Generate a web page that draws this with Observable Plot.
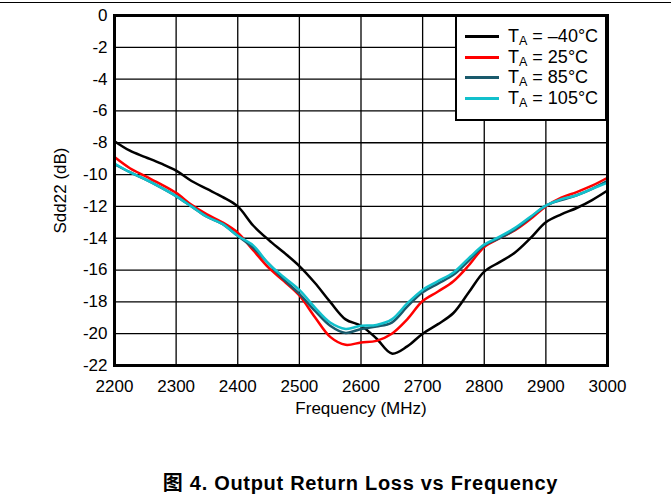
<!DOCTYPE html>
<html>
<head>
<meta charset="utf-8">
<script src="https://cdn.jsdelivr.net/npm/d3@7"></script>
<script src="https://cdn.jsdelivr.net/npm/@observablehq/plot@0.6"></script>
<style>
  html, body { margin: 0; padding: 0; background: #fff; }
  #page { position: relative; width: 671px; height: 502px; overflow: hidden;
          font-family: "Liberation Sans", Arial, "Noto Sans CJK SC", sans-serif; }
  #rule { position: absolute; left: 0; top: 2px; width: 671px; border-top: 1.5px solid #000; }
  #chart { position: absolute; left: 0; top: 0; }
  #legend { position: absolute; box-sizing: border-box; background: #fff;
            border: 2.5px solid #000; font-size: 18px; color: #000; }
  .row { position: absolute; left: 0; height: 20px; display: flex; align-items: center; white-space: nowrap; }
  .sw { display: inline-block; width: 34px; height: 3px; margin-left: 8px; margin-right: 9px; }
  .row sub { font-size: 12.5px; vertical-align: -3px; line-height: 0; }
  #caption { position: absolute; left: 104px; width: 513px; top: 472px; line-height: 22px;
             text-align: center; font-weight: bold; font-size: 20px; letter-spacing: 0.7px; color: #000; }
</style>
</head>
<body>
<div id="page">
  <div id="rule"></div>
  <div id="chart"></div>
  <div id="legend"></div>
  <div id="caption">图 4. Output Return Loss vs Frequency</div>
</div>
<script>
// Frequency sweep (MHz)
const freq = [2200, 2225, 2250, 2275, 2300, 2325, 2350, 2375, 2400, 2425, 2450, 2475, 2500,
  2525, 2550, 2575, 2600, 2625, 2650, 2675, 2700, 2725, 2750, 2775, 2800, 2825, 2850, 2875,
  2900, 2925, 2950, 2975, 3000];

// Sdd22 (dB) per ambient temperature
const sddM40 = [-7.9, -8.5, -8.9, -9.3, -9.75, -10.4, -10.9, -11.4, -12.0, -13.2, -14.1, -14.9, -15.75,
  -16.8, -18.0, -19.1, -19.5, -20.3, -21.25, -20.8, -20.0, -19.4, -18.7, -17.4, -16.1, -15.5, -14.9, -14.0,
  -13.0, -12.5, -12.1, -11.6, -11.0];
const sdd25 = [-8.9, -9.6, -10.1, -10.6, -11.15, -11.9, -12.5, -13.0, -13.65, -14.75, -15.85, -16.7, -17.6,
  -18.95, -20.2, -20.7, -20.55, -20.45, -20.0, -19.1, -17.95, -17.35, -16.7, -15.7, -14.55, -14.0, -13.5, -12.8,
  -12.0, -11.45, -11.1, -10.7, -10.2];
const sdd85 = [-9.35, -9.85, -10.3, -10.8, -11.35, -12.0, -12.65, -13.1, -13.85, -14.6, -15.6, -16.6, -17.5,
  -18.55, -19.5, -19.95, -19.7, -19.55, -19.3, -18.3, -17.4, -16.85, -16.3, -15.4, -14.45, -14.0, -13.45, -12.7,
  -11.95, -11.6, -11.3, -10.9, -10.4];
const sdd105 = [-9.3, -9.85, -10.3, -10.8, -11.35, -12.0, -12.65, -13.1, -13.85, -14.45, -15.6, -16.45, -17.25,
  -18.35, -19.3, -19.7, -19.5, -19.45, -19.1, -18.1, -17.25, -16.7, -16.15, -15.25, -14.4, -13.9, -13.35, -12.65,
  -11.95, -11.55, -11.3, -10.9, -10.5];

const temps = ["\u201340", "25", "85", "105"];
const colors = ["#000000", "#ff0000", "#1a5a6c", "#12c0cc"];
const seriesValues = [sddM40, sdd25, sdd85, sdd105];

const xTicks = [2200, 2300, 2400, 2500, 2600, 2700, 2800, 2900, 3000];
const yTicks = [0, -2, -4, -6, -8, -10, -12, -14, -16, -18, -20, -22];

const table = seriesValues.flatMap((vals, s) =>
  freq.map((f, i) => ({f, v: vals[i], s})));

const chart = Plot.plot({
  width: 671,
  height: 440,
  marginLeft: 114,
  marginRight: 64,
  marginTop: 15,
  marginBottom: 75,
  style: {fontFamily: "'Liberation Sans', Arial, sans-serif", fontSize: "17px", color: "#000", background: "transparent"},
  x: {domain: [2200, 3000]},
  y: {domain: [-22, 0]},
  marks: [
    Plot.gridX(xTicks, {stroke: "#000", strokeOpacity: 1, strokeWidth: 1.3}),
    Plot.gridY(yTicks, {stroke: "#000", strokeOpacity: 1, strokeWidth: 1.3}),
    Plot.axisX(xTicks, {tickSize: 0, tickPadding: 14, tickFormat: d => String(d),
      label: "Frequency (MHz)", labelAnchor: "center", labelArrow: "none", labelOffset: 48}),
    Plot.axisY(yTicks, {tickSize: 0, tickPadding: 7, tickFormat: d => String(d),
      label: "Sdd22 (dB)", labelAnchor: "center", labelArrow: "none", labelOffset: 61}),
    ...seriesValues.map((_, s) =>
      Plot.line(table.filter(d => d.s === s), {x: "f", y: "v", stroke: colors[s], strokeWidth: 2.5, curve: "catmull-rom"})),
    Plot.frame({stroke: "#000", strokeWidth: 3})
  ]
});
document.getElementById("chart").appendChild(chart);

// Legend box in the upper-right corner of the plot area
const legend = document.getElementById("legend");
Object.assign(legend.style, {left: "455px", top: "15px", width: "152px", height: "106px"});
temps.forEach((t, i) => {
  const row = document.createElement("div");
  row.className = "row";
  row.style.top = (9.5 + i * 20.6) + "px";
  row.innerHTML = `<span class="sw" style="background:${colors[i]}"></span><span>T<sub>A</sub> = ${t}°C</span>`;
  legend.appendChild(row);
});
</script>
</body>
</html>
